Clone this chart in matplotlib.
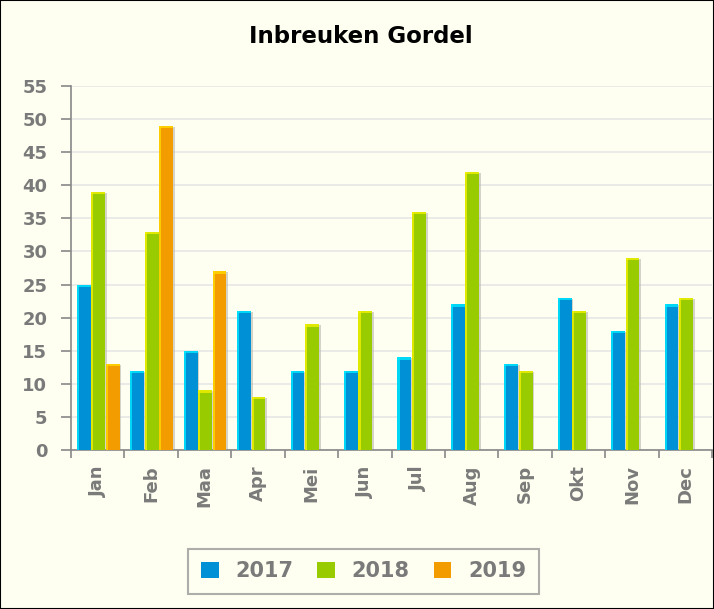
import numpy as np
import matplotlib.pyplot as plt
from matplotlib.patches import Rectangle

months = ['Jan', 'Feb', 'Maa', 'Apr', 'Mei', 'Jun', 'Jul', 'Aug', 'Sep', 'Okt', 'Nov', 'Dec']
v2017 = [25, 12, 15, 21, 12, 12, 14, 22, 13, 23, 18, 22]
v2018 = [39, 33, 9, 8, 19, 21, 36, 42, 12, 21, 29, 23]
v2019 = [13, 49, 27]

series = [
    ('2017', v2017, '#0090d6', '#00e8ff'),
    ('2018', v2018, '#99cc00', '#f0f000'),
    ('2019', v2019, '#f39c00', '#ffd800'),
]
offsets = [-0.26, 0.01, 0.28]
width = 0.26

bg = '#fefff0'
txt = '#7a7a7a'

fig = plt.figure(figsize=(7.14, 6.09), dpi=100, facecolor=bg)
fig.patches.append(Rectangle((0, 0), 1, 1, transform=fig.transFigure, fill=False,
                             edgecolor='black', linewidth=1.5))
ax = fig.add_axes([0.0994, 0.261, 0.898, 0.598], facecolor=bg)

x = np.arange(len(months))
handles = []
for (name, vals, col, hi), off in zip(series, offsets):
    xs = x[:len(vals)] + off
    # shadow
    ax.bar(xs + 0.035, np.array(vals) - 0.15, width, color='#b8b8b0', alpha=0.6, zorder=2)
    h = ax.bar(xs, vals, width, color=col, zorder=3, label=name)
    handles.append(h)
    # highlight on left edge and top
    ax.bar(xs - width / 2 + 0.02, vals, 0.04, color=hi, zorder=4, alpha=0.8)
    ax.bar(xs, [0.35] * len(vals), width, bottom=np.array(vals) - 0.35, color=hi,
           zorder=4, alpha=0.8)

ax.set_xlim(-0.5, len(months) - 0.5)
ax.set_ylim(0, 55)
ax.set_yticks(range(0, 56, 5))
ax.yaxis.grid(True, color='#e6e6e6', linewidth=1.2, zorder=0)
ax.set_axisbelow(True)

ax.set_xticks(x)
ax.set_xticklabels(months, rotation=90, fontsize=13, fontweight='bold', color=txt)
ax.set_xticks(np.arange(-0.5, len(months)), minor=True)
ax.tick_params(axis='x', which='major', length=0, pad=11)
ax.tick_params(axis='x', which='minor', length=6, color='#888888', width=1.2)
ax.tick_params(axis='y', length=7, color='#888888', width=1.2, labelsize=13,
               labelcolor=txt, pad=10)
for lab in ax.get_yticklabels():
    lab.set_fontweight('bold')

for s in ['top', 'right']:
    ax.spines[s].set_visible(False)
for s in ['left', 'bottom']:
    ax.spines[s].set_color('#888888')
    ax.spines[s].set_linewidth(1.2)

fig.text(0.506, 0.94, 'Inbreuken Gordel', ha='center', va='center',
         fontsize=16.5, fontweight='bold', color='black')

leg = fig.legend(handles=handles, labels=[s[0] for s in series], loc='center',
                 bbox_to_anchor=(0.509, 0.062), ncol=3, frameon=True, fancybox=False,
                 handlelength=0.85, handleheight=0.85, handletextpad=0.8, columnspacing=1.15,
                 prop={'size': 15, 'weight': 'bold'}, borderpad=0.6)
leg.get_frame().set_edgecolor('#999999')
leg.get_frame().set_linewidth(1.5)
leg.get_frame().set_facecolor(bg)
for t in leg.get_texts():
    t.set_color(txt)

fig.savefig('out.png', dpi=100, facecolor=bg)
